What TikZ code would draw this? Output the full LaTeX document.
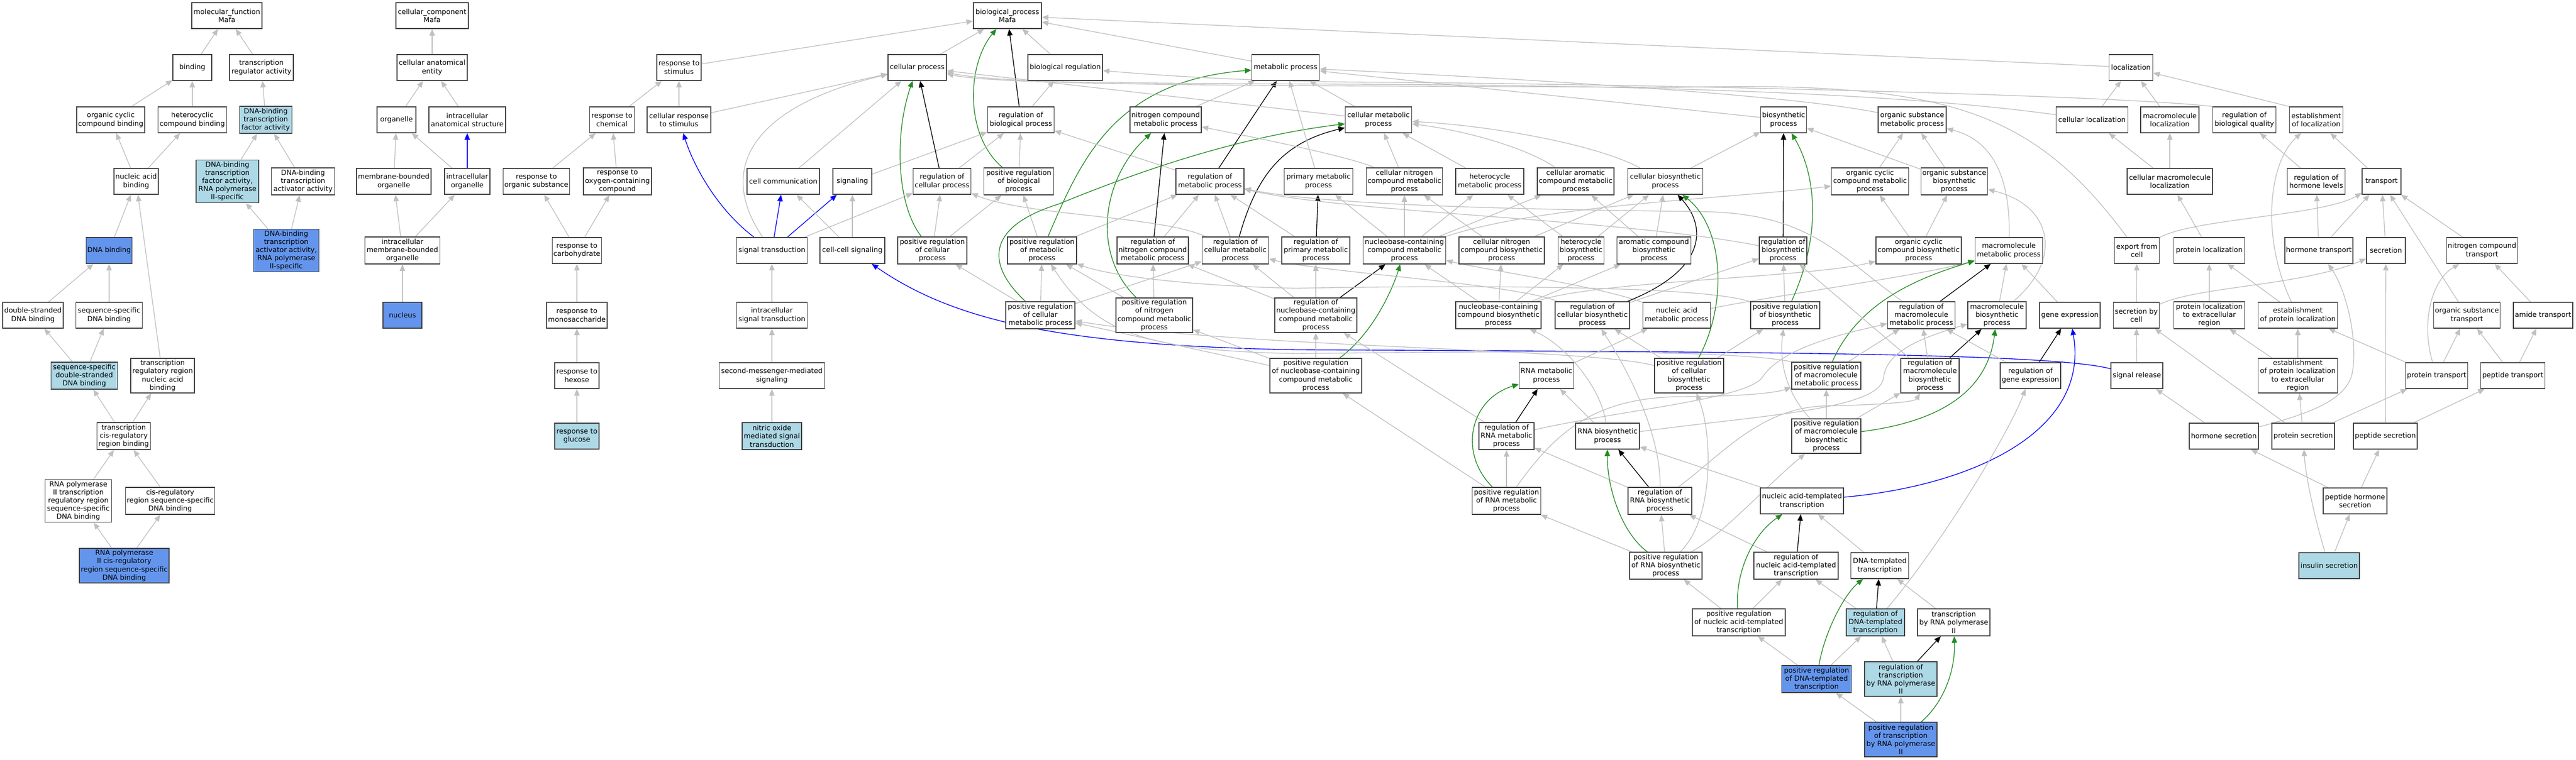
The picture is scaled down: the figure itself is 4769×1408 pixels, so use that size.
\documentclass[tikz,border=0pt]{standalone}
\usepackage{fontspec}
\setmainfont{DejaVu Sans}
\usetikzlibrary{arrows.meta}
\pgfdeclarelayer{back}
\pgfdeclarelayer{bg}
\pgfsetlayers{back,bg,main}
\definecolor{lb}{RGB}{173,216,230}
\definecolor{cf}{RGB}{100,149,237}
\definecolor{edgegray}{RGB}{192,192,192}
\definecolor{bord}{RGB}{64,64,64}
\definecolor{fgreen}{RGB}{34,139,34}
\newcommand{\gnode}[7]{\node[box,fill=#6,minimum width=#4*0.75pt,minimum height=#5*0.75pt] (#1) at (#2,#3) {#7};}
\tikzset{
  box/.style={draw=bord,line width=1.2pt,inner sep=0pt,align=center,font=\fontsize{9.7pt}{11.4pt}\selectfont},
  gedge/.style={draw=edgegray,line width=1pt,-{Triangle[length=9pt,width=7.5pt]}},
  kedge/.style={gedge,draw=black},
  gnedge/.style={gedge,draw=fgreen},
  bedge/.style={gedge,draw=blue}
}
\begin{document}
\begin{tikzpicture}[x=0.75pt,y=-0.75pt]
\begin{pgfonlayer}{back}
\path[use as bounding box,fill=white] (0,0) rectangle (4769,1408);
\end{pgfonlayer}
% molecular function
\gnode{mf}{420}{29}{130}{48}{white}{molecular\_function\\Mafa}
\gnode{bind}{356}{125}{72}{48}{white}{binding}
\gnode{tra}{484}{125}{118}{48}{white}{transcription\\regulator activity}
\gnode{occb}{205}{222}{126}{48}{white}{organic cyclic\\compound binding}
\gnode{hcb}{356}{222}{127}{48}{white}{heterocyclic\\compound binding}
\gnode{dbtf}{492}{222}{97}{50}{lb}{DNA-binding\\transcription\\factor activity}
\gnode{nab}{252}{336}{82}{48}{white}{nucleic acid\\binding}
\gnode{dbtf2}{421}{336}{116}{79}{lb}{DNA-binding\\transcription\\factor activity,\\RNA polymerase\\II-specific}
\gnode{dbtaa}{561}{336}{117}{50}{white}{DNA-binding\\transcription\\activator activity}
\gnode{dnab}{202}{464}{85}{48}{cf}{DNA binding}
\gnode{dbtaa2}{530}{464}{121}{79}{cf}{DNA-binding\\transcription\\activator activity,\\RNA polymerase\\II-specific}
\gnode{dsdb}{61}{584}{112}{48}{white}{double-stranded\\DNA binding}
\gnode{ssdb}{202}{584}{123}{48}{white}{sequence-specific\\DNA binding}
\gnode{ssdsdb}{156}{696}{123}{50}{lb}{sequence-specific\\double-stranded\\DNA binding}
\gnode{trrnab}{301}{696}{118}{64}{white}{transcription\\regulatory region\\nucleic acid\\binding}
\gnode{tcrb}{229}{808}{99}{50}{white}{transcription\\cis-regulatory\\region binding}
\gnode{rptrr}{145}{928}{123}{79}{white}{RNA polymerase\\II transcription\\regulatory region\\sequence-specific\\DNA binding}
\gnode{crss}{315}{928}{165}{50}{white}{cis-regulatory\\region sequence-specific\\DNA binding}
\gnode{rpcr}{230}{1048}{166}{64}{cf}{RNA polymerase\\II cis-regulatory\\region sequence-specific\\DNA binding}
% cellular component
\gnode{cc}{800}{29}{134}{48}{white}{cellular\_component\\Mafa}
\gnode{cae}{800}{125}{130}{48}{white}{cellular anatomical\\entity}
\gnode{org}{734}{222}{72}{48}{white}{organelle}
\gnode{ias}{865}{222}{142}{48}{white}{intracellular\\anatomical structure}
\gnode{mbo}{729}{336}{138}{48}{white}{membrane-bounded\\organelle}
\gnode{io}{865}{336}{84}{48}{white}{intracellular\\organelle}
\gnode{imbo}{745}{464}{139}{50}{white}{intracellular\\membrane-bounded\\organelle}
\gnode{nuc}{745}{584}{72}{48}{cf}{nucleus}
% response
\gnode{rs}{1257}{125}{82}{48}{white}{response to\\stimulus}
\gnode{rc}{1133}{222}{83}{48}{white}{response to\\chemical}
\gnode{crs}{1257}{222}{118}{48}{white}{cellular response\\to stimulus}
\gnode{ros}{993}{336}{123}{48}{white}{response to\\organic substance}
\gnode{rocc}{1143}{336}{126}{50}{white}{response to\\oxygen-containing\\compound}
\gnode{rcarb}{1068}{464}{91}{48}{white}{response to\\carbohydrate}
\gnode{rmono}{1068}{584}{112}{48}{white}{response to\\monosaccharide}
\gnode{rhex}{1068}{696}{82}{48}{white}{response to\\hexose}
\gnode{rglu}{1068}{808}{82}{48}{lb}{response to\\glucose}
% signaling
\gnode{ccom}{1450}{336}{134}{48}{white}{cell communication}
\gnode{sig}{1578}{336}{72}{48}{white}{signaling}
\gnode{st}{1429}{464}{131}{48}{white}{signal transduction}
\gnode{ccs}{1578}{464}{120}{48}{white}{cell-cell signaling}
\gnode{ist}{1429}{584}{131}{48}{white}{intracellular\\signal transduction}
\gnode{smms}{1429}{696}{195}{48}{white}{second-messenger-mediated\\signaling}
\gnode{nomst}{1429}{808}{110}{50}{lb}{nitric oxide\\mediated signal\\transduction}
% biological process
\gnode{bp}{1865}{29}{126}{48}{white}{biological\_process\\Mafa}
\gnode{cp}{1698}{125}{108}{48}{white}{cellular process}
\gnode{br}{1972}{125}{138}{48}{white}{biological regulation}
\gnode{mp}{2380}{125}{125}{48}{white}{metabolic process}
\gnode{loc}{3945}{125}{81}{48}{white}{localization}
\gnode{rbp}{1890}{222}{123}{48}{white}{regulation of\\biological process}
\gnode{ncmp}{2158}{222}{132}{48}{white}{nitrogen compound\\metabolic process}
\gnode{cmp}{2552}{222}{123}{48}{white}{cellular metabolic\\process}
\gnode{bsp}{3302}{222}{85}{48}{white}{biosynthetic\\process}
\gnode{osmp}{3540}{222}{126}{48}{white}{organic substance\\metabolic process}
\gnode{cloc}{3873}{222}{133}{48}{white}{cellular localization}
\gnode{mloc}{4017}{222}{108}{48}{white}{macromolecule\\localization}
\gnode{rbq}{4155}{222}{117}{48}{white}{regulation of\\biological quality}
\gnode{eloc}{4288}{222}{99}{48}{white}{establishment\\of localization}
\gnode{rcp}{1744}{336}{107}{48}{white}{regulation of\\cellular process}
\gnode{prbp}{1886}{336}{129}{50}{white}{positive regulation\\of biological\\process}
\gnode{rmp}{2240}{336}{126}{48}{white}{regulation of\\metabolic process}
\gnode{pmp}{2441}{336}{127}{48}{white}{primary metabolic\\process}
\gnode{cncmp}{2600}{336}{141}{50}{white}{cellular nitrogen\\compound metabolic\\process}
\gnode{hmp}{2758}{336}{126}{48}{white}{heterocycle\\metabolic process}
\gnode{camp}{2917}{336}{142}{50}{white}{cellular aromatic\\compound metabolic\\process}
\gnode{cbp}{3083}{336}{139}{48}{white}{cellular biosynthetic\\process}
\gnode{occmp}{3462}{336}{143}{50}{white}{organic cyclic\\compound metabolic\\process}
\gnode{osbp}{3618}{336}{123}{50}{white}{organic substance\\biosynthetic\\process}
\gnode{cmloc}{4017}{336}{158}{48}{white}{cellular macromolecule\\localization}
\gnode{rhl}{4288}{336}{107}{48}{white}{regulation of\\hormone levels}
\gnode{tran}{4409}{336}{72}{48}{white}{transport}
\gnode{prcp}{1726}{464}{128}{50}{white}{positive regulation\\of cellular\\process}
\gnode{prmp}{1929}{464}{128}{50}{white}{positive regulation\\of metabolic\\process}
\gnode{rncmp}{2134}{464}{132}{50}{white}{regulation of\\nitrogen compound\\metabolic process}
\gnode{rcmp}{2287}{464}{123}{50}{white}{regulation of\\cellular metabolic\\process}
\gnode{rpmp}{2436}{464}{126}{50}{white}{regulation of\\primary metabolic\\process}
\gnode{nbcmp}{2600}{464}{153}{50}{white}{nucleobase-containing\\compound metabolic\\process}
\gnode{cncbp}{2780}{464}{158}{50}{white}{cellular nitrogen\\compound biosynthetic\\process}
\gnode{hbp}{2927}{464}{85}{50}{white}{heterocycle\\biosynthetic\\process}
\gnode{acbp}{3062}{464}{137}{50}{white}{aromatic compound\\biosynthetic\\process}
\gnode{rbsp}{3301}{464}{88}{50}{white}{regulation of\\biosynthetic\\process}
\gnode{occbp}{3552}{464}{158}{50}{white}{organic cyclic\\compound biosynthetic\\process}
\gnode{mmp}{3719}{464}{125}{48}{white}{macromolecule\\metabolic process}
\gnode{efc}{3956}{464}{83}{48}{white}{export from\\cell}
\gnode{ploc}{4090}{464}{131}{48}{white}{protein localization}
\gnode{htr}{4293}{464}{126}{48}{white}{hormone transport}
\gnode{sec}{4417}{464}{72}{48}{white}{secretion}
\gnode{nctr}{4595}{464}{131}{48}{white}{nitrogen compound\\transport}
\gnode{prcmp}{1926}{584}{128}{50}{white}{positive regulation\\of cellular\\metabolic process}
\gnode{prncmp}{2137}{584}{142}{64}{white}{positive regulation\\of nitrogen\\compound metabolic\\process}
\gnode{rnbcmp}{2436}{584}{152}{64}{white}{regulation of\\nucleobase-containing\\compound metabolic\\process}
\gnode{nbcbp}{2774}{584}{158}{50}{white}{nucleobase-containing\\compound biosynthetic\\process}
\gnode{rcbp}{2948}{584}{138}{50}{white}{regulation of\\cellular biosynthetic\\process}
\gnode{namp}{3104}{584}{125}{48}{white}{nucleic acid\\metabolic process}
\gnode{prbsp}{3305}{584}{128}{50}{white}{positive regulation\\of biosynthetic\\process}
\gnode{rmmp}{3557}{584}{125}{50}{white}{regulation of\\macromolecule\\metabolic process}
\gnode{mbsp}{3697}{584}{108}{50}{white}{macromolecule\\biosynthetic\\process}
\gnode{gex}{3832}{584}{112}{48}{white}{gene expression}
\gnode{sbc}{3955}{584}{85}{48}{white}{secretion by\\cell}
\gnode{plecr}{4090}{584}{131}{50}{white}{protein localization\\to extracellular\\region}
\gnode{eploc}{4254}{584}{147}{48}{white}{establishment\\of protein localization}
\gnode{ostr}{4567}{584}{123}{48}{white}{organic substance\\transport}
\gnode{amtr}{4708}{584}{110}{48}{white}{amide transport}
\gnode{prnbcmp}{2436}{696}{170}{64}{white}{positive regulation\\of nucleobase-containing\\compound metabolic\\process}
\gnode{rnamp}{2863}{696}{101}{48}{white}{RNA metabolic\\process}
\gnode{prcbp}{3127}{696}{128}{64}{white}{positive regulation\\of cellular\\biosynthetic\\process}
\gnode{prmmp}{3381}{696}{128}{50}{white}{positive regulation\\of macromolecule\\metabolic process}
\gnode{rmbsp}{3573}{696}{108}{64}{white}{regulation of\\macromolecule\\biosynthetic\\process}
\gnode{rgex}{3759}{696}{112}{48}{white}{regulation of\\gene expression}
\gnode{srel}{3956}{696}{96}{48}{white}{signal release}
\gnode{eplecr}{4254}{696}{147}{64}{white}{establishment\\of protein localization\\to extracellular\\region}
\gnode{prtr}{4511}{696}{115}{48}{white}{protein transport}
\gnode{pptr}{4652}{696}{119}{48}{white}{peptide transport}
\gnode{rrnamp}{2789}{808}{102}{50}{white}{regulation of\\RNA metabolic\\process}
\gnode{rnabp}{2976}{808}{118}{48}{white}{RNA biosynthetic\\process}
\gnode{prmbsp}{3381}{808}{128}{64}{white}{positive regulation\\of macromolecule\\biosynthetic\\process}
\gnode{hsec}{4117}{808}{128}{48}{white}{hormone secretion}
\gnode{psec}{4264}{808}{116}{48}{white}{protein secretion}
\gnode{ppsec}{4416}{808}{118}{48}{white}{peptide secretion}
\gnode{prrnamp}{2789}{928}{127}{50}{white}{positive regulation\\of RNA metabolic\\process}
\gnode{rrnabp}{3073}{928}{118}{50}{white}{regulation of\\RNA biosynthetic\\process}
\gnode{natt}{3336}{928}{154}{48}{white}{nucleic acid-templated\\transcription}
\gnode{phs}{4360}{928}{118}{48}{white}{peptide hormone\\secretion}
\gnode{prrnabp}{3084}{1048}{134}{50}{white}{positive regulation\\of RNA biosynthetic\\process}
\gnode{rnatt}{3325}{1048}{156}{50}{white}{regulation of\\nucleic acid-templated\\transcription}
\gnode{dtt}{3480}{1048}{107}{48}{white}{DNA-templated\\transcription}
\gnode{ins}{4312}{1048}{112}{48}{lb}{insulin secretion}
\gnode{prnatt}{3219}{1153}{172}{50}{white}{positive regulation\\of nucleic acid-templated\\transcription}
\gnode{rdtt}{3472}{1153}{108}{50}{lb}{regulation of\\DNA-templated\\transcription}
\gnode{trp}{3617}{1153}{134}{50}{white}{transcription\\by RNA polymerase\\II}
\gnode{prdtt}{3363}{1258}{129}{50}{cf}{positive regulation\\of DNA-templated\\transcription}
\gnode{rtrp}{3519}{1258}{134}{64}{lb}{regulation of\\transcription\\by RNA polymerase\\II}
\gnode{prtrp}{3519}{1370}{134}{64}{cf}{positive regulation\\of transcription\\by RNA polymerase\\II}

\begin{pgfonlayer}{bg}
% MF
\draw[gedge] (bind) -- (mf);
\draw[gedge] (tra) -- (mf);
\draw[gedge] (occb) -- (bind);
\draw[gedge] (hcb) -- (bind);
\draw[gedge] (dbtf) -- (tra);
\draw[gedge] (nab) -- (occb);
\draw[gedge] (nab) -- (hcb);
\draw[gedge] (dbtf2) -- (dbtf);
\draw[gedge] (dbtaa) -- (dbtf);
\draw[gedge] (dnab) -- (nab);
\draw[gedge] (trrnab) -- (nab);
\draw[gedge] (dbtaa2) -- (dbtf2);
\draw[gedge] (dbtaa2) -- (dbtaa);
\draw[gedge] (dsdb) -- (dnab);
\draw[gedge] (ssdb) -- (dnab);
\draw[gedge] (ssdsdb) -- (dsdb);
\draw[gedge] (ssdsdb) -- (ssdb);
\draw[gedge] (tcrb) -- (ssdsdb);
\draw[gedge] (tcrb) -- (trrnab);
\draw[gedge] (rptrr) -- (tcrb);
\draw[gedge] (crss) -- (tcrb);
\draw[gedge] (rpcr) -- (rptrr);
\draw[gedge] (rpcr) -- (crss);
% CC
\draw[gedge] (cae) -- (cc);
\draw[gedge] (org) -- (cae);
\draw[gedge] (ias) -- (cae);
\draw[gedge] (mbo) -- (org);
\draw[gedge] (io) -- (org);
\draw[bedge] (io) -- (ias);
\draw[gedge] (imbo) -- (mbo);
\draw[gedge] (imbo) -- (io);
\draw[gedge] (nuc) -- (imbo);
% response
\draw[gedge] (rs) -- (bp);
\draw[gedge] (rc) -- (rs);
\draw[gedge] (crs) -- (rs);
\draw[gedge] (crs) -- (cp);
\draw[gedge] (ros) -- (rc);
\draw[gedge] (rocc) -- (rc);
\draw[gedge] (rcarb) -- (ros);
\draw[gedge] (rcarb) -- (rocc);
\draw[gedge] (rmono) -- (rcarb);
\draw[gedge] (rhex) -- (rmono);
\draw[gedge] (rglu) -- (rhex);
% signaling
\draw[bedge] (st) .. controls (1330,390) and (1285,310) .. (crs);
\draw[bedge] (st) -- (ccom);
\draw[bedge] (st) -- (sig);
\draw[gedge] (st) .. controls (1330,320) and (1380,200) .. (cp);
\draw[gedge] (st) -- (rcp);
\draw[gedge] (ccom) -- (cp);
\draw[gedge] (ccs) -- (ccom);
\draw[gedge] (ccs) -- (sig);
\draw[gedge] (sig) -- (rbp);
\draw[gedge] (ist) -- (st);
\draw[gedge] (smms) -- (ist);
\draw[gedge] (nomst) -- (smms);
\draw[bedge] (srel) .. controls (3800,655) and (3300,652) .. (2400,648) .. controls (1950,640) and (1760,590) .. (ccs);
% BP top
\draw[gedge] (cp) -- (bp);
\draw[gedge] (br) -- (bp);
\draw[gedge] (mp) -- (bp);
\draw[gedge] (loc) -- (bp);
\draw[kedge] (rbp) -- (bp);
\draw[gedge] (rbp) -- (br);
\draw[gnedge] (prbp) .. controls (1785,250) and (1790,120) .. (bp);
\draw[gedge] (prbp) -- (rbp);
\draw[kedge] (rcp) -- (cp);
\draw[gedge] (rcp) -- (rbp);
\draw[gnedge] (prcp) .. controls (1660,380) and (1655,250) .. (cp);
\draw[gedge] (prcp) -- (rcp);
\draw[gedge] (prcp) -- (prbp);
\draw[gnedge] (prmp) .. controls (2000,300) and (2060,150) .. (mp);
\draw[gedge] (prmp) -- (prbp);
\draw[gedge] (prmp) -- (rmp);
\draw[kedge] (rmp) -- (mp);
\draw[gedge] (rmp) -- (rbp);
\draw[gedge] (ncmp) -- (mp);
\draw[kedge] (rncmp) -- (ncmp);
\draw[gedge] (rncmp) -- (rmp);
\draw[gnedge] (prncmp) .. controls (2020,470) and (2040,330) .. (ncmp);
\draw[gedge] (prncmp) -- (rncmp);
\draw[gedge] (prncmp) -- (prmp);
\draw[gedge] (rcmp) -- (rmp);
\draw[gedge] (rcmp) .. controls (2150,400) and (1900,400) .. (rcp);
\draw[kedge] (rcmp) .. controls (2325,330) and (2370,265) .. (cmp);
\draw[gnedge] (prcmp) .. controls (1825,490) and (1825,420) .. (1960,378) .. controls (2150,300) and (2320,250) .. (cmp);
\draw[gedge] (prcmp) -- (prcp);
\draw[gedge] (prcmp) -- (prmp);
\draw[gedge] (prcmp) -- (rcmp);
\draw[gedge] (rpmp) -- (rmp);
\draw[gedge] (pmp) -- (mp);
\draw[kedge] (rpmp) -- (pmp);
\draw[gedge] (prnbcmp) -- (prncmp);
\draw[gedge] (rnbcmp) -- (rncmp);
\draw[gedge] (rnbcmp) -- (rcmp);
\draw[gedge] (rnbcmp) -- (rpmp);
\draw[kedge] (rnbcmp) -- (nbcmp);
\draw[gedge] (prnbcmp) -- (rnbcmp);
\draw[gnedge] (prnbcmp) .. controls (2545,615) and (2580,530) .. (nbcmp);
\draw[gedge] (prnbcmp) -- (prcmp);
% metabolic
\draw[gedge] (cncmp) -- (cmp);
\draw[gedge] (cncmp) .. controls (2500,290) and (2300,250) .. (ncmp);
\draw[gedge] (hmp) -- (cmp);
\draw[gedge] (camp) .. controls (2820,270) and (2700,240) .. (cmp);
\draw[gedge] (cbp) .. controls (2950,265) and (2750,232) .. (cmp);
\draw[gedge] (cbp) -- (bsp);
\draw[gedge] (cmp) -- (cp);
\draw[gedge] (cmp) -- (mp);
\draw[gedge] (bsp) -- (mp);
\draw[gedge] (osmp) .. controls (3300,172) and (2700,140) .. (mp);
\draw[gedge] (nbcmp) -- (cncmp);
\draw[gedge] (nbcmp) -- (hmp);
\draw[gedge] (nbcmp) -- (camp);
\draw[gedge] (nbcmp) -- (pmp);
\draw[gedge] (nbcmp) .. controls (2850,380) and (3200,368) .. (occmp);
\draw[gedge] (cncbp) -- (cncmp);
\draw[gedge] (cncbp) -- (cbp);
\draw[gedge] (hbp) -- (hmp);
\draw[gedge] (hbp) -- (cbp);
\draw[gedge] (acbp) -- (camp);
\draw[gedge] (acbp) -- (cbp);
\draw[gedge] (occmp) -- (osmp);
\draw[gedge] (osbp) -- (osmp);
\draw[gedge] (osbp) -- (bsp);
\draw[gedge] (occbp) -- (occmp);
\draw[gedge] (occbp) -- (osbp);
\draw[gedge] (mmp) .. controls (3722,330) and (3690,260) .. (osmp);
\draw[gedge] (mbsp) -- (mmp);
\draw[gedge] (mbsp) .. controls (3820,480) and (3800,380) .. (osbp);
\draw[gedge] (gex) -- (mmp);
\draw[gedge] (namp) .. controls (2960,530) and (2750,500) .. (nbcmp);
\draw[gedge] (namp) .. controls (3300,545) and (3560,510) .. (mmp);
\draw[gedge] (nbcbp) -- (nbcmp);
\draw[gedge] (nbcbp) -- (cncbp);
\draw[gedge] (nbcbp) -- (hbp);
\draw[gedge] (nbcbp) -- (acbp);
\draw[gedge] (nbcbp) .. controls (2950,520) and (3350,515) .. (occbp);
\draw[kedge] (rcbp) .. controls (3160,500) and (3160,420) .. (cbp);
\draw[gedge] (rcbp) -- (rbsp);
\draw[gedge] (rcbp) .. controls (2800,525) and (2450,505) .. (rcmp);
\draw[kedge] (rbsp) -- (bsp);
\draw[gedge] (rbsp) .. controls (3000,405) and (2500,395) .. (rmp);
\draw[gnedge] (prbsp) .. controls (3375,430) and (3360,320) .. (bsp);
\draw[gedge] (prbsp) -- (rbsp);
\draw[gedge] (prbsp) .. controls (3150,525) and (2600,530) .. (2400,534) .. controls (2200,530) and (2050,510) .. (prmp);
\draw[kedge] (rmmp) -- (mmp);
\draw[gedge] (rmmp) .. controls (3400,470) and (3350,395) .. (3150,392) .. controls (2800,388) and (2450,380) .. (rmp);
\draw[gnedge] (prmmp) .. controls (3440,560) and (3550,515) .. (mmp);
\draw[gedge] (prmmp) -- (rmmp);
\draw[gedge] (prmmp.north west) .. controls (3200,645) and (2700,652) .. (2400,655) .. controls (2130,650) and (2030,620) .. (prmp);
\draw[gnedge] (prmbsp) .. controls (3600,780) and (3680,720) .. (mbsp);
\draw[gedge] (prmbsp) -- (prmmp);
\draw[gedge] (prmbsp) -- (rmbsp);
\draw[gedge] (prmbsp) .. controls (3300,720) and (3295,660) .. (prbsp);
\draw[gedge] (rmbsp) -- (rmmp);
\draw[kedge] (rmbsp) -- (mbsp);
\draw[gedge] (rmbsp) -- (rbsp);
\draw[kedge] (rgex) -- (gex);
\draw[gedge] (rgex) -- (rmmp);
\draw[gnedge] (prcbp) .. controls (3200,560) and (3190,420) .. (cbp);
\draw[gedge] (prcbp) -- (rcbp);
\draw[gedge] (prcbp) .. controls (2950,645) and (2300,645) .. (prcmp);
\draw[gedge] (prcbp) -- (prbsp);
% RNA / transcription
\draw[gedge] (rnamp) -- (namp);
\draw[kedge] (rrnamp) -- (rnamp);
\draw[gedge] (rrnamp) -- (rnbcmp);
\draw[gedge] (rrnamp) .. controls (3000,760) and (3230,740) .. (3262,700) .. controls (3300,640) and (3430,615) .. (rmmp);
\draw[gnedge] (prrnamp) .. controls (2700,840) and (2720,740) .. (rnamp);
\draw[gedge] (prrnamp) -- (rrnamp);
\draw[gedge] (prrnamp) -- (prnbcmp);
\draw[gedge] (prrnamp) .. controls (2880,800) and (2950,740) .. (3100,735) .. controls (3200,735) and (3280,730) .. (prmmp);
\draw[gedge] (rnabp) -- (rnamp);
\draw[gedge] (rnabp) .. controls (2965,720) and (2900,640) .. (nbcbp);
\draw[gedge] (rnabp) .. controls (3250,770) and (3480,760) .. (3487,700) .. controls (3492,650) and (3560,625) .. (mbsp);
\draw[kedge] (rrnabp) -- (rnabp);
\draw[gedge] (rrnabp) -- (rrnamp);
\draw[gedge] (rrnabp) .. controls (3075,800) and (3010,680) .. (rcbp);
\draw[gedge] (rrnabp) .. controls (3190,840) and (3260,755) .. (3380,752) .. controls (3480,750) and (3545,745) .. (rmbsp);
\draw[gnedge] (prrnabp) .. controls (3000,985) and (2975,900) .. (rnabp);
\draw[gedge] (prrnabp) -- (rrnabp);
\draw[gedge] (prrnabp) -- (prrnamp);
\draw[gedge] (prrnabp) .. controls (3175,960) and (3170,800) .. (prcbp);
\draw[gedge] (prrnabp) .. controls (3190,990) and (3270,900) .. (prmbsp);
\draw[gedge] (natt) -- (rnabp);
\draw[bedge] (natt) .. controls (3650,900) and (3870,800) .. (gex);
\draw[kedge] (rnatt) -- (natt);
\draw[gedge] (rnatt) -- (rrnabp);
\draw[gedge] (dtt) -- (natt);
\draw[kedge] (rdtt) -- (dtt);
\draw[gedge] (rdtt) -- (rnatt);
\draw[gedge] (rdtt) .. controls (3600,1000) and (3720,800) .. (rgex);
\draw[gedge] (trp) -- (dtt);
\draw[gnedge] (prnatt) .. controls (3212,1060) and (3245,990) .. (natt);
\draw[gedge] (prnatt) -- (rnatt);
\draw[gedge] (prnatt) -- (prrnabp);
\draw[gnedge] (prdtt) .. controls (3378,1170) and (3415,1100) .. (dtt);
\draw[gedge] (prdtt) -- (rdtt);
\draw[gedge] (prdtt) -- (prnatt);
\draw[kedge] (rtrp) -- (trp);
\draw[gedge] (rtrp) -- (rdtt);
\draw[gnedge] (prtrp) .. controls (3600,1300) and (3620,1240) .. (trp);
\draw[gedge] (prtrp) -- (rtrp);
\draw[gedge] (prtrp) -- (prdtt);
% localization
\draw[gedge] (cloc) .. controls (3500,170) and (3000,158) .. (2500,156) .. controls (2000,154) and (1850,152) .. (cp);
\draw[gedge] (efc) .. controls (3760,200) and (3600,150) .. (3100,162) .. controls (2400,158) and (1860,160) .. (cp);
\draw[gedge] (efc) .. controls (4060,405) and (4300,400) .. (tran);
\draw[gedge] (rbq.north west) .. controls (3900,175) and (3000,155) .. (2500,152) .. controls (2300,150) and (2150,140) .. (br);
\draw[gedge] (cloc) -- (loc);
\draw[gedge] (mloc) -- (loc);
\draw[gedge] (eloc.north west) -- (loc);
\draw[gedge] (cmloc) -- (cloc);
\draw[gedge] (cmloc) -- (mloc);
\draw[gedge] (rhl) -- (rbq);
\draw[gedge] (tran) -- (eloc);
\draw[gedge] (ploc) -- (cmloc);
\draw[gedge] (htr) -- (rhl);
\draw[gedge] (htr) -- (tran);
\draw[gedge] (sec) -- (tran);
\draw[gedge] (nctr) -- (tran);
\draw[gedge] (sbc) -- (efc);
\draw[gedge] (sbc) .. controls (4070,530) and (4260,530) .. (sec);
\draw[gedge] (plecr) -- (ploc);
\draw[gedge] (eploc) -- (ploc);
\draw[gedge] (eploc) .. controls (4185,440) and (4200,300) .. (eloc);
\draw[gedge] (ostr) -- (tran);
\draw[gedge] (amtr) -- (nctr);
\draw[gedge] (eplecr) -- (plecr);
\draw[gedge] (eplecr) -- (eploc);
\draw[gedge] (prtr) -- (ostr);
\draw[gedge] (prtr) .. controls (4482,600) and (4500,520) .. (nctr);
\draw[gedge] (prtr) -- (eploc);
\draw[gedge] (pptr) -- (ostr);
\draw[gedge] (pptr) -- (amtr);
\draw[gedge] (srel) -- (sbc);
\draw[gedge] (hsec) -- (srel);
\draw[gedge] (hsec) .. controls (4280,765) and (4345,740) .. (4355,690) .. controls (4365,630) and (4345,540) .. (htr);
\draw[gedge] (psec) -- (sbc);
\draw[gedge] (psec) -- (eplecr);
\draw[gedge] (psec) -- (prtr);
\draw[gedge] (ppsec) -- (sec);
\draw[gedge] (ppsec) -- (pptr);
\draw[gedge] (phs) -- (hsec);
\draw[gedge] (phs) -- (ppsec);
\draw[gedge] (ins) -- (phs);
\draw[gedge] (ins) .. controls (4285,960) and (4268,880) .. (psec);
\end{pgfonlayer}
\end{tikzpicture}
\end{document}
